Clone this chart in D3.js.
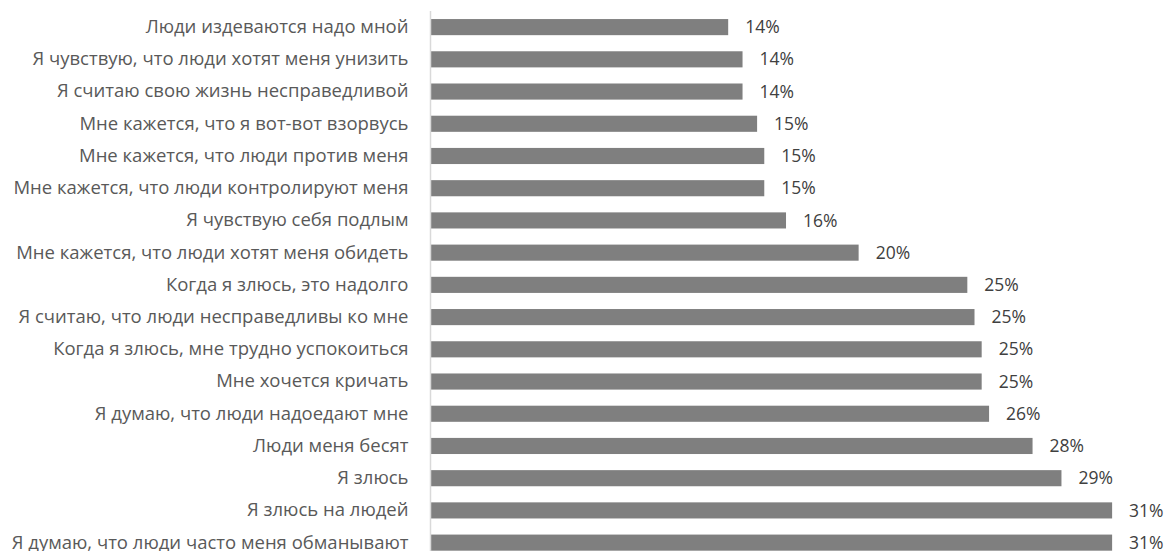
<!DOCTYPE html>
<html lang="ru">
  <head>
    <meta charset="utf-8">
    <script src="https://cdn.jsdelivr.net/npm/d3@7"></script>
    <style>
      body { margin: 0; background: #fff; }
    </style>
  </head>
  <body>
    <script type="text/javascript">

      // Data
      var categories = [
        "Люди издеваются надо мной",
        "Я чувствую, что люди хотят меня унизить",
        "Я считаю свою жизнь несправедливой",
        "Мне кажется, что я вот-вот взорвусь",
        "Мне кажется, что люди против меня",
        "Мне кажется, что люди контролируют меня",
        "Я чувствую себя подлым",
        "Мне кажется, что люди хотят меня обидеть",
        "Когда я злюсь, это надолго",
        "Я считаю, что люди несправедливы ко мне",
        "Когда я злюсь, мне трудно успокоиться",
        "Мне хочется кричать",
        "Я думаю, что люди надоедают мне",
        "Люди меня бесят",
        "Я злюсь",
        "Я злюсь на людей",
        "Я думаю, что люди часто меня обманывают"
      ];
      var values = [13.67, 14.33, 14.33, 15.0, 15.33, 15.33, 16.33, 19.67, 24.67,
                    25.0, 25.33, 25.33, 25.67, 27.67, 29.0, 31.33, 31.33];

      //Width and height
      var svgWidth = 1168;
      var svgHeight = 551;

      var svg = d3.select("body")
        .append("svg")
        .attr("width", svgWidth)
        .attr("height", svgHeight);

      var x = d3.scaleLinear()
        .domain([0, 35])
        .range([431, 431 + 21.74 * 35]);

      var y = d3.scaleBand()
        .domain(categories)
        .range([11, 11 + 17 * 32.22])
        .paddingInner(0.5)
        .paddingOuter(0.25);

      // bars
      svg.selectAll("rect.bar")
        .data(values)
        .enter()
        .append("rect")
        .attr("class", "bar")
        .attr("x", x(0))
        .attr("y", function(d, i) { return y(categories[i]); })
        .attr("width", function(d) { return x(d) - x(0); })
        .attr("height", y.bandwidth())
        .attr("fill", "#7f7f7f");

      // value labels
      svg.selectAll("text.val")
        .data(values)
        .enter()
        .append("text")
        .attr("class", "val")
        .attr("x", function(d) { return x(d) + 17; })
        .attr("y", function(d, i) { return y(categories[i]) + y.bandwidth() / 2; })
        .attr("dy", "0.35em")
        .attr("font-family", "'Open Sans', sans-serif")
        .attr("font-size", 17.5)
        .attr("fill", "#404040")
        .text(function(d) { return Math.round(d) + "%"; });

      // category axis
      var yAxis = d3.axisLeft(y).tickSize(0).tickPadding(22);
      var g = svg.append("g")
        .attr("transform", "translate(430.5,0)")
        .call(yAxis);
      g.select(".domain")
        .attr("d", "M0,11V" + svgHeight)
        .attr("stroke", "#d9d9d9")
        .attr("stroke-width", 1.5);
      g.selectAll(".tick text")
        .attr("font-family", "'Open Sans', sans-serif")
        .attr("font-size", 18.5)
        .attr("fill", "#595959");
    </script>
  </body>
</html>
